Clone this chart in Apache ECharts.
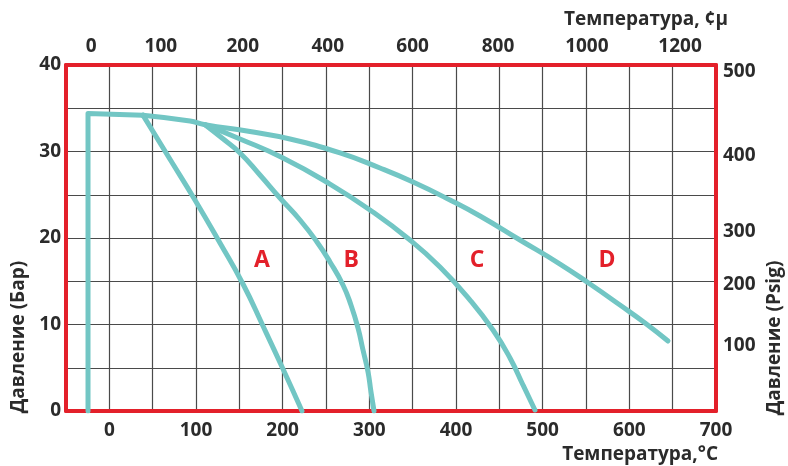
<!DOCTYPE html>
<html>
<head>
<meta charset="utf-8">
<script src="https://cdn.jsdelivr.net/npm/echarts@6/dist/echarts.min.js"></script>
<style>html,body{margin:0;padding:0;background:#fff;}#c{width:788px;height:466px;}</style>
</head>
<body>
<div id="c"></div>
<script>
// Bottom axis: temperature, °C
const tempTicks = [0, 100, 200, 300, 400, 500, 600, 700];
// Left axis: pressure, bar
const barTicks = [0, 10, 20, 30, 40];
// Top axis labels (irregular positions, in °C axis units)
const topTickPos = [-21, 59.5, 154, 252, 350, 448.5, 551, 658.5];
const topTickText = ['0', '100', '200', '400', '600', '800', '1000', '1200'];
// Right axis labels (irregular positions, in bar axis units)
const rightTickPos = [7.6, 14.6, 20.7, 29.5, 39.2];
const rightTickText = ['100', '200', '300', '400', '500'];

// Curves: [°C, bar]
const baseLine = [[-24.6, 0], [-24.6, 34.4], [38.8, 34.2]];
const curveA = [[38.8, 34.2], [70.0, 29.1], [98.8, 24.4], [127.7, 19.42], [154.2, 14.68], [177.3, 9.83], [200.4, 4.86], [222.3, 0]];
const curveB = [[110.4, 33.1], [130.0, 31.56], [150.8, 29.83], [173.8, 27.28], [196.9, 24.62], [220.0, 22.08], [239.6, 19.54], [254.6, 17.23], [269.6, 14.57], [278.8, 12.25], [286.9, 9.6], [292.7, 7.05], [298.5, 4.51], [301.9, 2.2], [305.4, 0]];
const curveC = [[110.4, 33.1], [150.8, 31.45], [200.4, 29.25], [254.6, 26.24], [300.8, 23.24], [346.9, 19.77], [381.5, 16.65], [416.2, 12.83], [442.7, 9.36], [462.3, 6.13], [477.3, 3.01], [491.1, 0.12]];
const curveD = [[38.8, 34.2], [93.1, 33.53], [110.4, 33.1], [162.3, 32.31], [208.5, 31.45], [266.2, 29.83], [312.3, 28.09], [350.4, 26.47], [393.1, 24.39], [427.7, 22.54], [473.8, 19.77], [520.0, 16.99], [554.6, 14.68], [589.2, 12.25], [618.1, 10.17], [644.6, 8.09]];

// Curve letters
const letterNames = ['A', 'B', 'C', 'D'];
const letterX = [176.2, 279, 424.2, 574.2];
const letterY = [17.45, 17.45, 17.45, 17.45];

const FONT = "'Open Sans', 'DejaVu Sans', sans-serif";
const TXT = '#2b2b2b';
const RED = '#e3202a';
const TEAL = '#72c6c4';
const GRIDC = '#4a4a4a';

const chart = echarts.init(document.getElementById('c'));

const lbl = { fontFamily: FONT, fontWeight: 'bold', fontSize: 19, color: TXT };

function lineSeries(name, data, smooth) {
  return {
    name, type: 'line', data, xAxisIndex: 0, yAxisIndex: 0,
    showSymbol: false, symbol: 'none', smooth: smooth,
    lineStyle: { color: TEAL, width: 5, cap: 'round', join: 'round' },
    z: 4, silent: true, animation: false
  };
}

chart.setOption({
  animation: false,
  backgroundColor: '#fff',
  grid: { left: 66, top: 65, width: 650, height: 346, containLabel: false },
  xAxis: [
    {
      type: 'value', position: 'bottom', min: -50, max: 700, interval: 50,
      axisLine: { show: true, onZero: false, lineStyle: { color: RED, width: 4 } },
      axisTick: { show: false },
      splitLine: { show: true, showMinLine: false, showMaxLine: false, lineStyle: { color: GRIDC, width: 1.2 } },
      axisLabel: Object.assign({}, lbl, {
        margin: 10,
        formatter: v => (tempTicks.indexOf(v) >= 0 ? String(v) : '')
      })
    },
    {
      type: 'value', position: 'top', min: -50, max: 700,
      axisLine: { show: true, onZero: false, lineStyle: { color: RED, width: 4 } },
      axisTick: { show: false },
      splitLine: { show: false },
      axisLabel: Object.assign({}, lbl, {
        margin: 9,
        customValues: topTickPos,
        formatter: v => { const i = topTickPos.findIndex(p => Math.abs(p - v) < 0.01); return i >= 0 ? topTickText[i] : ''; }
      })
    }
  ],
  yAxis: [
    {
      type: 'value', position: 'left', min: 0, max: 40, interval: 5,
      axisLine: { show: true, onZero: false, lineStyle: { color: RED, width: 4 } },
      axisTick: { show: false },
      splitLine: { show: true, showMinLine: false, showMaxLine: false, lineStyle: { color: GRIDC, width: 1.2 } },
      axisLabel: Object.assign({}, lbl, {
        margin: 5,
        formatter: v => (barTicks.indexOf(v) >= 0 ? String(v) : '')
      })
    },
    {
      type: 'value', position: 'right', min: 0, max: 40,
      axisLine: { show: true, onZero: false, lineStyle: { color: RED, width: 4 } },
      axisTick: { show: false },
      splitLine: { show: false },
      axisLabel: Object.assign({}, lbl, {
        margin: 7,
        customValues: rightTickPos,
        formatter: v => { const i = rightTickPos.findIndex(p => Math.abs(p - v) < 0.01); return i >= 0 ? rightTickText[i] : ''; }
      })
    }
  ],
  series: [
    lineSeries('base', baseLine, false),
    lineSeries('A', curveA, 0.5),
    lineSeries('B', curveB, 0.5),
    lineSeries('C', curveC, 0.5),
    lineSeries('D', curveD, 0.5),
    {
      type: 'scatter', xAxisIndex: 0, yAxisIndex: 0,
      data: letterNames.map((n, i) => ({ name: n, value: [letterX[i], letterY[i]] })),
      symbol: 'rect', symbolSize: [32, 36],
      itemStyle: { color: '#ffffff', opacity: 1 },
      label: {
        show: true, position: 'inside', formatter: p => p.name,
        color: RED, fontFamily: FONT, fontWeight: 'bold', fontSize: 23
      },
      z: 3, silent: true
    }
  ],
  graphic: [
    {
      type: 'text', x: 718, y: 455,
      style: { text: 'Температура,°C', fill: TXT, font: "bold 19px 'Open Sans', sans-serif", align: 'right', verticalAlign: 'middle' }
    },
    {
      type: 'text', x: 728, y: 20,
      style: { text: 'Температура, ¢μ', fill: TXT, font: "bold 19px 'Open Sans', sans-serif", align: 'right', verticalAlign: 'middle' }
    },
    {
      type: 'text', x: 19, y: 337, rotation: Math.PI / 2,
      style: { text: 'Давление (Бар)', fill: TXT, font: "bold 19px 'Open Sans', sans-serif", align: 'center', verticalAlign: 'middle' }
    },
    {
      type: 'text', x: 775, y: 338, rotation: Math.PI / 2,
      style: { text: 'Давление (Psig)', fill: TXT, font: "bold 19px 'Open Sans', sans-serif", align: 'center', verticalAlign: 'middle' }
    }
  ]
});
</script>
</body>
</html>
